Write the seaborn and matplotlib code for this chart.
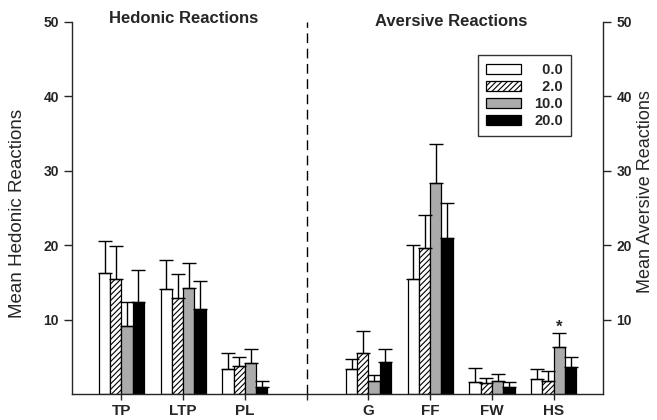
import numpy as np
import pandas as pd
import matplotlib
matplotlib.use("Agg")
import matplotlib.pyplot as plt
import seaborn as sns
from matplotlib.patches import Patch

categories = ['TP', 'LTP', 'PL', 'G', 'FF', 'FW', 'HS']
doses = ['0.0', '2.0', '10.0', '20.0']
mean_0 = [16.3, 14.1, 3.4, 3.3, 15.4, 1.65, 2.05]
mean_2 = [15.5, 12.9, 3.7, 5.5, 19.6, 1.45, 1.75]
mean_10 = [9.1, 14.3, 4.2, 1.75, 28.4, 1.75, 6.35]
mean_20 = [12.3, 11.4, 1.0, 4.3, 20.9, 1.0, 3.6]
sem_0 = [4.3, 3.9, 2.1, 1.45, 4.6, 1.85, 1.35]
sem_2 = [4.4, 3.2, 1.3, 3.0, 4.5, 0.75, 1.3]
sem_10 = [3.3, 3.3, 1.9, 0.85, 5.2, 0.95, 1.8]
sem_20 = [4.3, 3.8, 0.8, 1.8, 4.7, 0.6, 1.35]
yticks = [10, 20, 30, 40, 50]

means = [mean_0, mean_2, mean_10, mean_20]
sems = [sem_0, sem_2, sem_10, sem_20]
rows = []
for d, m, s in zip(doses, means, sems):
    for c, mv, sv in zip(categories, m, s):
        rows.append({'cat': c, 'dose': d, 'mean': mv, 'sem': sv})
df = pd.DataFrame(rows)
sem_lookup = {(r.cat, r.dose): r.sem for r in df.itertuples()}

order = ['TP', 'LTP', 'PL', ' ', 'G', 'FF', 'FW', 'HS']

sns.set_style('ticks')
plt.rcParams['font.family'] = ['Liberation Sans', 'DejaVu Sans']
plt.rcParams['hatch.linewidth'] = 0.8

fig = plt.figure(figsize=(6.57, 4.20), dpi=100)
ax = fig.add_axes([0.1096, 0.062, 0.918 - 0.1096, 0.948 - 0.062])

face = ['white', 'white', '#ababab', 'black']
hatches = ['', '//////', '', '']
sns.barplot(data=df, x='cat', y='mean', hue='dose', order=order, hue_order=doses,
            palette=face, errorbar=None, width=0.73, edgecolor='black',
            linewidth=0.9, ax=ax, legend=False)

bar_containers = list(ax.containers)
for i, cont in enumerate(bar_containers):
    for bar in cont.patches:
        bar.set_hatch(hatches[i])
        bar.set_edgecolor('black')
        xc = bar.get_x() + bar.get_width() / 2
        h = bar.get_height()
        if np.isnan(h) or h == 0:
            continue
        cat = order[int(round(xc))]
        e = sem_lookup[(cat, doses[i])]
        ax.errorbar(xc, h, yerr=[[0], [e]], fmt='none', ecolor='black',
                    elinewidth=1.0, capsize=5, capthick=1.0)
        if cat == 'HS' and doses[i] == '10.0':
            ax.text(xc, h + e + 0.8, '*', ha='center', va='center',
                    fontsize=12, fontweight='bold')

ax.set_xlim(-0.8, 7.8)
ax.set_ylim(0, 50)
ax.set_yticks(yticks)
ax.set_yticklabels([str(t) for t in yticks], fontsize=10, fontweight='bold')
ax.set_xticks(range(len(order)))
ax.set_xticklabels(order, fontsize=11, fontweight='bold')
ax.tick_params(axis='x', length=4, width=1, pad=3)
ax.tick_params(axis='y', length=6, width=1)
ax.set_xlabel('')
ax.set_ylabel('')
for s in ['top', 'right']:
    ax.spines[s].set_visible(False)
ax.spines['left'].set_linewidth(1)
ax.spines['bottom'].set_linewidth(1)

ax.axvline(3, color='black', linestyle=(0, (7, 4)), linewidth=1)

ax2 = ax.twinx()
ax2.set_ylim(0, 50)
ax2.set_yticks(yticks)
ax2.set_yticklabels([str(t) for t in yticks], fontsize=10, fontweight='bold')
ax2.tick_params(axis='y', length=6, width=1)
for s in ['top', 'left', 'bottom']:
    ax2.spines[s].set_visible(False)
ax2.spines['right'].set_linewidth(1)

fig.text(18 / 657, 1 - 213 / 420, 'Mean Hedonic Reactions', rotation=90,
         ha='center', va='center', fontsize=13.5)
fig.text(645 / 657, 1 - 192 / 420, 'Mean Aversive Reactions', rotation=90,
         ha='center', va='center', fontsize=13)

fig.text(184 / 657, 1 - 23 / 420, 'Hedonic Reactions', ha='center', va='baseline',
         fontsize=12, fontweight='bold')
fig.text(451 / 657, 1 - 26 / 420, 'Aversive Reactions', ha='center', va='baseline',
         fontsize=12, fontweight='bold')

handles = [Patch(facecolor=face[i], edgecolor='black', hatch=hatches[i], linewidth=0.9)
           for i in range(4)]
labels = ['\u2007' + d if len(d) < 4 else d for d in doses]
leg = fig.legend(handles, labels, loc='upper left',
                 bbox_to_anchor=(478 / 657, 1 - 55 / 420),
                 frameon=True, fancybox=False, edgecolor='black', fontsize=10.5,
                 handlelength=2.4, handleheight=0.7, labelspacing=0.2,
                 borderpad=0.55, handletextpad=0.9, borderaxespad=0)
leg.get_frame().set_linewidth(1)
for t in leg.get_texts():
    t.set_fontweight('bold')

fig.savefig('out.png', dpi=100)
